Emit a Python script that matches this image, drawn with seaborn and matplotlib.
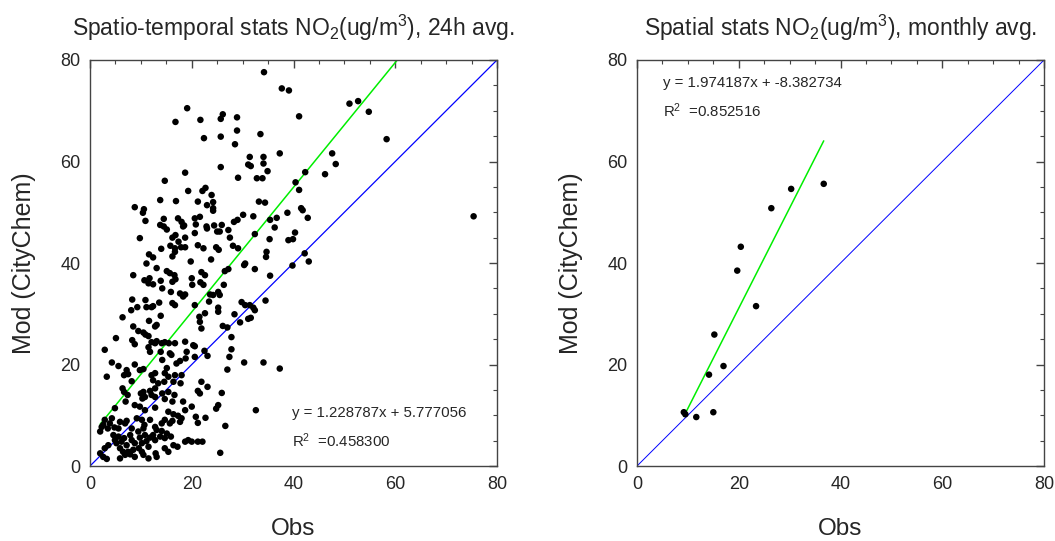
import numpy as np
import pandas as pd
import seaborn as sns
import matplotlib.pyplot as plt

# 24h averages (obs, mod)
obs_24h = [
    34.2, 37.7, 39.1, 19.1, 16.8, 21.7, 25.7, 26.1, 28.9, 28.9, 25.7, 22.4, 33.5, 28.5, 37.3, 31.4, 34.1, 31.1, 31.6, 34.1,
    34.9, 25.7, 18.7, 14.7, 29.1, 32.8, 33.9, 19.3, 22.1, 22.7, 23.9, 13.8, 16.9, 21.2, 24.2, 24.2, 24.2, 23.0, 8.8, 10.6,
    10.4, 10.9, 14.5, 17.3, 18.0, 18.5, 13.8, 14.5, 15.1, 18.3, 20.6, 21.6, 20.8, 22.9, 23.0, 24.4, 25.0, 25.9, 25.5, 27.2,
    28.3, 29.0, 30.1, 32.1, 33.2, 34.4, 35.4, 36.3, 36.7, 32.4, 38.8, 39.0, 39.9, 9.8, 16.2, 16.8, 18.7, 20.6, 27.5, 28.1,
    29.1, 35.3, 14.0, 15.8, 16.7, 16.2, 17.4, 17.9, 18.7, 21.2, 22.3, 24.8, 25.3, 11.6, 12.4, 16.7, 23.8, 19.8, 34.7, 34.6,
    11.1, 30.5,
    51.0, 52.7, 54.8, 41.1, 58.3, 47.6, 48.3, 46.2, 42.3, 40.4, 41.1, 41.5, 41.8, 42.8, 40.3, 42.2, 43.0, 75.4, 39.8, 37.3,
    27.8, 27.8, 27.4, 27.0, 30.3, 34.1, 22.5, 23.1, 20.6, 20.6, 21.9, 23.1, 21.2, 21.6, 25.9, 25.2, 24.8, 32.6, 22.7, 20.8,
    21.2, 26.6, 21.2, 22.1, 25.6,
    30.3, 32.4, 26.5, 27.2, 35.4, 21.9, 22.6, 21.7, 22.3, 26.3, 25.2, 24.2, 25.5, 23.4, 23.6, 34.5, 29.8, 30.5, 31.4, 32.1,
    32.4, 31.6, 31.1, 25.2, 25.2, 22.6, 21.5, 21.6, 28.4, 26.1, 27.0, 29.5, 20.6, 21.9,
    8.5, 10.7, 11.7, 11.5, 12.4, 13.1, 13.9, 15.1, 15.7, 16.6, 16.8, 16.2, 14.2, 15.9, 17.7, 18.3, 18.7, 20.0, 20.1, 8.3,
    9.3, 8.1, 10.9, 11.1, 12.1, 12.4, 13.6, 16.2, 16.7, 6.4, 13.9, 11.6, 8.5, 9.5, 10.5, 12.8, 13.1, 8.3, 8.8, 10.9,
    11.5, 5.1, 12.1, 12.8, 13.1, 11.5, 11.8, 14.1, 14.7, 15.5, 16.7, 18.7, 20.3, 13.9, 14.2, 15.7, 16.0, 2.9, 19.0, 18.8,
    17.7, 17.0, 4.3, 5.6, 7.2, 7.5, 6.7, 8.2, 3.3, 8.8, 9.8, 10.5, 12.1, 12.8, 12.4, 15.1, 14.7, 15.4, 14.6, 16.7,
    16.4, 18.0, 17.8, 13.4, 12.8, 10.5, 10.8, 10.3, 10.0, 7.4, 7.0, 6.4, 6.7, 11.8, 12.1, 12.8, 14.2, 14.7, 15.4, 16.6,
    16.2, 4.9, 8.8, 9.8, 10.8, 12.8, 18.3, 18.7, 20.0, 15.4, 16.4, 17.3, 2.9, 2.6, 3.5, 3.9, 4.3, 5.9, 6.9, 7.2,
    8.2, 9.2, 10.2, 10.7, 11.8, 12.8, 13.1, 14.1, 14.7, 15.7, 16.2, 18.0, 17.7,
    2.0, 2.9, 3.6, 2.6, 3.3, 4.6, 4.9, 5.6, 5.2, 5.9, 6.2, 6.7, 7.2, 6.5, 6.9, 5.9, 7.9, 8.2, 8.8, 8.5,
    7.9, 8.8, 9.5, 9.8, 10.2, 9.6, 10.8, 11.1, 11.8, 11.5, 12.4, 12.8, 12.9, 13.1, 14.7, 15.1, 15.9, 16.4, 17.2, 18.7,
    19.3, 20.0, 4.8, 5.6, 2.0, 2.3, 7.5, 10.5, 11.5, 10.2, 14.1, 13.8, 10.5, 14.7, 15.4,
]
mod_24h = [
    77.6, 74.4, 74.0, 70.5, 67.8, 68.2, 68.4, 69.3, 68.7, 66.1, 64.9, 64.6, 65.4, 63.4, 61.6, 60.9, 60.9, 59.4, 59.1, 59.6,
    58.1, 58.9, 57.8, 56.2, 56.8, 56.7, 56.7, 54.2, 54.2, 54.8, 53.4, 52.4, 52.2, 52.1, 52.0, 50.8, 50.3, 51.4, 51.0, 50.6,
    49.9, 48.3, 48.7, 48.8, 48.1, 47.4, 47.5, 47.2, 46.6, 47.2, 48.8, 49.1, 47.6, 47.2, 46.8, 47.4, 46.2, 47.5, 46.2, 46.5,
    48.1, 48.5, 49.5, 49.2, 52.1, 51.9, 48.5, 47.0, 48.9, 45.7, 49.9, 44.5, 44.7, 44.9, 45.0, 45.5, 45.0, 45.9, 45.0, 43.4,
    42.9, 44.7, 42.8, 43.4, 42.9, 41.3, 44.2, 43.1, 43.1, 43.5, 42.9, 43.1, 42.6, 41.7, 41.1, 42.2, 40.7, 40.3, 42.2, 41.2,
    39.9, 39.9,
    71.4, 71.9, 69.8, 68.9, 64.4, 61.6, 59.5, 57.5, 57.9, 55.9, 54.4, 50.8, 50.4, 48.9, 46.0, 41.9, 40.3, 49.2, 39.5, 19.2,
    25.4, 23.0, 21.5, 19.0, 20.4, 20.4, 22.7, 21.7, 23.6, 21.5, 16.6, 15.6, 14.8, 14.3, 14.4, 12.0, 11.3, 11.0, 9.5, 9.7,
    8.5, 7.9, 4.8, 4.8, 2.6,
    39.6, 38.8, 38.4, 38.8, 37.5, 38.2, 37.6, 36.2, 35.7, 35.7, 34.3, 33.7, 33.7, 32.4, 33.8, 32.6, 32.3, 31.7, 31.7, 31.2,
    30.7, 29.2, 29.0, 31.2, 30.4, 30.1, 29.4, 28.4, 29.9, 27.6, 27.3, 28.3, 31.7, 27.1,
    37.6, 36.6, 37.0, 36.0, 35.8, 39.0, 36.5, 38.4, 38.0, 37.6, 36.8, 36.3, 35.0, 34.3, 34.0, 33.4, 33.8, 37.0, 35.7, 32.8,
    31.3, 30.7, 32.7, 31.3, 31.3, 31.5, 32.2, 32.1, 31.7, 29.3, 29.6, 28.6, 27.5, 26.6, 26.3, 27.5, 27.8, 24.8, 24.0, 25.9,
    25.6, 25.2, 24.4, 24.2, 24.6, 23.4, 22.5, 24.2, 24.4, 24.2, 24.2, 24.5, 23.8, 22.5, 20.9, 22.2, 21.9, 22.9, 22.5, 21.2,
    20.7, 20.2, 20.4, 19.7, 18.9, 18.1, 17.9, 16.7, 17.6, 20.0, 18.9, 19.1, 17.9, 18.3, 16.9, 19.3, 18.3, 17.6, 16.6, 17.9,
    16.6, 17.9, 16.3, 16.3, 15.3, 14.6, 13.6, 13.3, 14.3, 14.0, 12.7, 15.3, 14.6, 14.8, 14.0, 13.6, 14.3, 13.2, 14.6, 14.0,
    12.7, 11.4, 12.0, 11.7, 11.0, 11.5, 12.7, 11.0, 11.7, 10.7, 10.2, 9.9, 9.1, 8.1, 7.4, 8.4, 9.4, 8.7, 8.4, 8.9,
    7.4, 9.4, 9.1, 8.1, 9.1, 7.7, 7.1, 8.4, 9.1, 8.4, 8.9, 9.4, 8.7,
    2.5, 3.5, 4.1, 1.8, 1.4, 6.1, 5.1, 5.8, 4.5, 3.5, 4.8, 5.5, 4.1, 2.8, 2.2, 1.5, 6.1, 5.1, 4.5, 3.2,
    2.3, 1.8, 6.8, 5.6, 4.5, 3.5, 6.1, 4.9, 5.6, 3.8, 6.1, 5.1, 2.5, 1.8, 5.5, 6.4, 5.8, 4.1, 3.8, 4.8,
    5.1, 4.8, 7.6, 7.4, 6.8, 7.7, 2.8, 2.2, 1.5, 2.8, 6.9, 5.8, 7.4, 3.5, 2.8,
]

# monthly averages
obs_month = [9.2, 9.5, 11.65, 15.0, 14.15, 17.0, 15.2, 23.4, 19.7, 20.4, 26.4, 30.3, 36.7]
mod_month = [10.6, 10.2, 9.65, 10.6, 18.0, 19.7, 25.9, 31.5, 38.5, 43.2, 50.8, 54.6, 55.6]

# regression fits shown on the plots
fit_24h = (1.228787, 5.777056, 0.458300)
fit_month = (1.974187, -8.382734, 0.852516)

one_to_one = [0, 80]

sns.set_style("white")
plt.rcParams['font.family'] = ['Liberation Sans', 'DejaVu Sans']
plt.rcParams['mathtext.fontset'] = 'custom'
plt.rcParams['mathtext.rm'] = 'Liberation Sans'
plt.rcParams['mathtext.it'] = 'Liberation Sans:italic'

fig = plt.figure(figsize=(10.55, 5.41), dpi=100)
ax1 = fig.add_axes([0.0853, 0.1386, 0.3858, 0.7505])
ax2 = fig.add_axes([0.6038, 0.1386, 0.3858, 0.7505])


def draw_panel(ax, obs, mod, fit, title, txt_xy, blue_lw):
    df = pd.DataFrame({'Obs': obs, 'Mod': mod})
    slope, icpt, r2 = fit
    xs = np.array([min(obs), max(obs)])
    sns.lineplot(x=one_to_one, y=one_to_one, ax=ax, color='#0000ff', lw=blue_lw)
    sns.lineplot(x=xs, y=slope * xs + icpt, ax=ax, color='#00ee00', lw=1.1)
    sns.scatterplot(data=df, x='Obs', y='Mod', ax=ax, color='black', s=22,
                    edgecolor='none', zorder=3)
    ax.set_xlim(0, 80)
    ax.set_ylim(0, 80)
    ax.set_xticks([0, 20, 40, 60, 80])
    ax.set_yticks([0, 20, 40, 60, 80])
    ax.set_xticks(np.arange(0, 81, 5), minor=True)
    ax.set_yticks(np.arange(0, 81, 5), minor=True)
    ax.tick_params(which='both', direction='in', top=True, right=True,
                   color='#444444', labelsize=13)
    ax.tick_params(which='major', length=6, width=1)
    ax.tick_params(which='minor', length=3, width=0.8)
    ax.tick_params(axis='x', pad=7)
    ax.tick_params(axis='y', pad=7)
    for sp in ax.spines.values():
        sp.set_color('#444444')
        sp.set_linewidth(1)
    ax.set_xlabel('Obs', fontsize=17.5, labelpad=18)
    ax.set_ylabel('Mod (CityChem)', fontsize=18, labelpad=17)
    ax.set_title(title, fontsize=16.5, pad=17)
    tx, ty = txt_xy
    ax.text(tx, ty, f'y = {slope:.6f}x + {icpt:.6f}', fontsize=10.8, va='center')
    ax.text(tx, ty - 5.5, f'R$^2$  ={r2:.6f}', fontsize=10.8, va='center')


draw_panel(ax1, obs_24h, mod_24h, fit_24h,
           'Spatio-temporal stats NO$_2$(ug/m$^3$), 24h avg.', (39.7, 10.4), 0.9)
draw_panel(ax2, obs_month, mod_month, fit_month,
           'Spatial stats NO$_2$(ug/m$^3$), monthly avg.', (5.1, 75.5), 0.7)

fig.savefig('out.png', dpi=100)
